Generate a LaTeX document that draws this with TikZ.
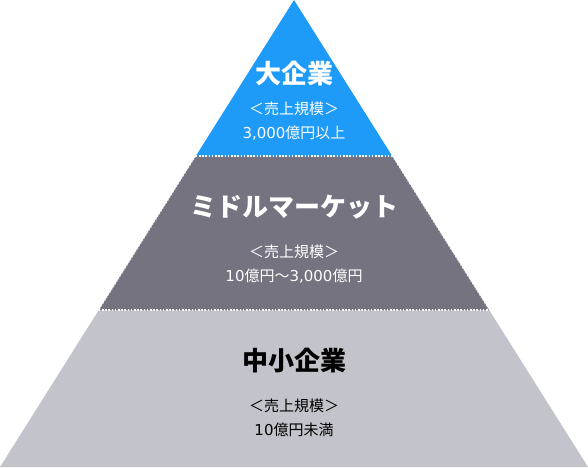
\documentclass[tikz,border=0pt]{standalone}
\usepackage{fontspec}
\setmainfont{Noto Sans CJK JP}
\newfontfamily\numfont{DejaVu Sans}
\usetikzlibrary{calc}
\definecolor{topblue}{HTML}{1E9AF8}
\definecolor{midgray}{HTML}{74737F}
\definecolor{lowgray}{HTML}{C3C3CB}
\newcommand{\nm}[1]{{\numfont #1}}
\tikzset{
  tiertitle/.style={inner sep=0pt, font=\bfseries\fontsize{26}{26}\selectfont},
  tiersub/.style={inner sep=0pt, align=center, font=\fontsize{15}{24}\selectfont},
  tierline/.style={draw=white, line width=1.2pt, dash pattern=on 1.6pt off 1.6pt}
}
\begin{document}
\begin{tikzpicture}[x=1pt,y=-1pt]
\useasboundingbox (0,0) rectangle (588,467);
\coordinate (apex) at (294,0);
\coordinate (bl) at (0,467);
\coordinate (br) at (588,467);
\coordinate (ul) at ($(apex)!156/467!(bl)$);
\coordinate (ur) at ($(apex)!156/467!(br)$);
\coordinate (ll) at ($(apex)!310/467!(bl)$);
\coordinate (lr) at ($(apex)!310/467!(br)$);
\fill[lowgray] (ll) -- (lr) -- (br) -- (bl) -- cycle;
\fill[midgray] (ul) -- (ur) -- (lr) -- (ll) -- cycle;
\fill[topblue] (apex) -- (ur) -- (ul) -- cycle;
\draw[tierline, draw=white!85!midgray, line width=0.8pt] (ur) -- (lr);
\draw[tierline, draw=white!85!midgray, line width=0.8pt] (ul) -- (ll);
\draw[tierline] (ul) -- (ur);
\draw[tierline] (ll) -- (lr);
\node[tiertitle, text=white] (t1) at (294,74) {大企業};
\node[tiersub, text=white] (s1) at (294,121) {＜売上規模＞\\\nm{3,000}億円以上};
\node[tiertitle, text=white] (t2) at (294,207) {ミドルマーケット};
\node[tiersub, text=white] (s2) at (294,264.5) {＜売上規模＞\\\nm{10}億円～\nm{3,000}億円};
\node[tiertitle, text=black] (t3) at (294,361) {中小企業};
\node[tiersub, text=black] (s3) at (294,417.5) {＜売上規模＞\\\nm{10}億円未満};
\end{tikzpicture}
\end{document}
